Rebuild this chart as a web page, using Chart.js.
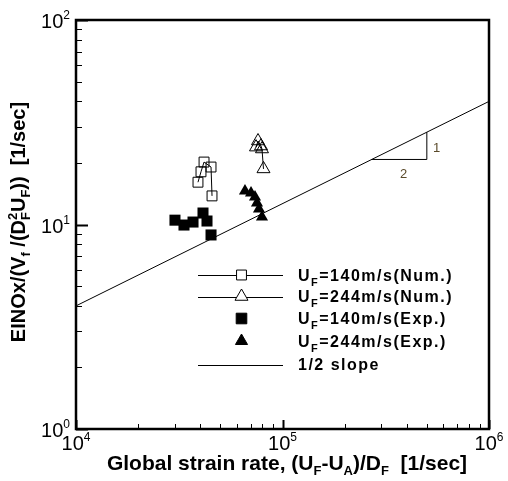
<!DOCTYPE html>
<html>
<head>
<meta charset="utf-8">
<script src="https://cdn.jsdelivr.net/npm/chart.js@4/dist/chart.umd.min.js"></script>
<style>
  html, body { margin: 0; padding: 0; background: #fff; }
  #wrap { width: 508px; height: 481px; }
</style>
</head>
<body>
<div id="wrap"><canvas id="chart" width="508" height="481"></canvas></div>
<script>
  // values: x = global strain rate [1/sec], y = EINOx index
  const num140 = [
    { x: 38970, y: 16.1 },
    { x: 40300, y: 18.1 },
    { x: 41690, y: 20.2 },
    { x: 45070, y: 19.1 },
    { x: 45570, y: 13.8 },
  ];
  const num244 = [
    { x: 74400, y: 23.9 },
    { x: 76100, y: 25.6 },
    { x: 78680, y: 24.2 },
    { x: 79560, y: 23.4 },
    { x: 80900, y: 18.7 },
  ];
  const exp140 = [
    { x: 30150, y: 10.5 },
    { x: 33340, y: 9.94 },
    { x: 36870, y: 10.28 },
    { x: 41210, y: 11.38 },
    { x: 43090, y: 10.4 },
    { x: 45070, y: 8.89 },
  ];
  const exp244 = [
    { x: 65810, y: 14.58 },
    { x: 70400, y: 14.26 },
    { x: 73580, y: 13.63 },
    { x: 75240, y: 12.74 },
    { x: 76940, y: 11.91 },
    { x: 79560, y: 10.88 },
  ];
  const halfSlope = [
    { x: 1e4, y: 4 },
    { x: 1e6, y: 40 },
  ];
  const slopeTriangle = [
    { x: 270000, y: 20.8 },
    { x: 500000, y: 20.8 },
    { x: 500000, y: 28.3 },
  ];

  const xMajors = [1e4, 1e5, 1e6];
  const xLabels = ["4", "5", "6"];
  const yMajors = [1, 10, 100];
  const yLabels = ["0", "1", "2"];

  const FONT = '"Liberation Sans", Arial, sans-serif';

  // draws text made of pieces: [text, kind], kind "" | "sub" | "sup" | "subsup" ("F|2")
  function drawRich(ctx, parts, x, y, opt) {
    const small = opt.small || Math.round(opt.size * 0.65);
    const fontFor = (k) => `${opt.weight || "normal"} ${k ? small : opt.size}px ${FONT}`;
    const widthOf = (t, k) => {
      ctx.font = fontFor(k);
      if (k === "subsup") {
        const [a, b] = t.split("|");
        return Math.max(ctx.measureText(a).width, ctx.measureText(b).width);
      }
      return ctx.measureText(t).width;
    };
    let total = 0;
    parts.forEach(([t, k]) => (total += widthOf(t, k)));
    let cx = opt.align === "center" ? x - total / 2 : opt.align === "right" ? x - total : x;
    ctx.textAlign = "left";
    ctx.textBaseline = "alphabetic";
    parts.forEach(([t, k]) => {
      const w = widthOf(t, k);
      ctx.font = fontFor(k);
      if (k === "subsup") {
        const [a, b] = t.split("|");
        ctx.fillText(a, cx, y + opt.drop);
        ctx.fillText(b, cx, y - opt.rise);
      } else {
        const dy = k === "sub" ? opt.drop : k === "sup" ? -opt.rise : 0;
        ctx.fillText(t, cx, y + dy);
      }
      cx += w;
    });
  }

  const decorations = {
    id: "decorations",
    afterDraw(chart) {
      const ctx = chart.ctx;
      const { left, right, top, bottom } = chart.chartArea;
      const xs = chart.scales.x;
      const ys = chart.scales.y;
      ctx.save();
      ctx.fillStyle = "#000";
      ctx.strokeStyle = "#000";

      // frame
      ctx.lineWidth = 2.5;
      ctx.strokeRect(left, top, right - left, bottom - top);

      // inward ticks
      const minors = [2, 3, 4, 5, 6, 7, 8, 9];
      ctx.beginPath();
      ctx.lineWidth = 2;
      yMajors.forEach((v) => {
        const py = Math.round(ys.getPixelForValue(v)) + 0.5;
        ctx.moveTo(left, py);
        ctx.lineTo(left + 12, py);
      });
      xMajors.forEach((v) => {
        const px = Math.round(xs.getPixelForValue(v)) + 0.5;
        ctx.moveTo(px, bottom);
        ctx.lineTo(px, bottom - 9);
      });
      ctx.stroke();
      ctx.beginPath();
      ctx.lineWidth = 1;
      yMajors.slice(0, -1).forEach((v) => {
        minors.forEach((m) => {
          const py = Math.round(ys.getPixelForValue(v * m)) + 0.5;
          ctx.moveTo(left, py);
          ctx.lineTo(left + 6, py);
        });
      });
      xMajors.slice(0, -1).forEach((v) => {
        minors.forEach((m) => {
          const px = Math.round(xs.getPixelForValue(v * m)) + 0.5;
          ctx.moveTo(px, bottom);
          ctx.lineTo(px, bottom - 5);
        });
      });
      ctx.stroke();

      // tick labels
      const tickOpt = { size: 20, small: 12, rise: 9, drop: 0 };
      xMajors.forEach((v, i) => {
        drawRich(ctx, [["10", ""], [xLabels[i], "sup"]], xs.getPixelForValue(v), bottom + 21,
          Object.assign({ align: "center" }, tickOpt));
      });
      yMajors.forEach((v, i) => {
        drawRich(ctx, [["10", ""], [yLabels[i], "sup"]], left - 6, ys.getPixelForValue(v) + 8,
          Object.assign({ align: "right" }, tickOpt));
      });

      // axis titles
      const titleOpt = { size: 20, small: 13, weight: "bold", rise: 8, drop: 5, align: "center" };
      drawRich(ctx, [
        ["Global strain rate, (U", ""], ["F", "sub"], ["-U", ""], ["A", "sub"],
        [")/D", ""], ["F", "sub"], ["  [1/sec]", ""],
      ], 287, 470, Object.assign({}, titleOpt, { size: 21 }));
      ctx.save();
      ctx.translate(25, 222);
      ctx.rotate(-Math.PI / 2);
      drawRich(ctx, [
        ["EINOx/(V", ""], ["f", "sub"], [" /(D", ""], ["F|2", "subsup"], ["U", ""],
        ["F", "sub"], ["))  [1/sec]", ""],
      ], 0, 0, titleOpt);
      ctx.restore();

      // legend
      const rows = [
        { y: 275, text: "=140m/s(Num.)", line: true, style: "rect", r: 7, fill: false },
        { y: 296.5, text: "=244m/s(Num.)", line: true, style: "triangle", r: 7.5, fill: false },
        { y: 318.5, text: "=140m/s(Exp.)", line: false, style: "rect", r: 7.5, fill: true },
        { y: 341, text: "=244m/s(Exp.)", line: false, style: "triangle", r: 7, fill: true },
        { y: 364.5, text: "1/2 slope", line: true, style: null },
      ];
      rows.forEach((row) => {
        if (row.line) {
          ctx.beginPath();
          ctx.lineWidth = 1;
          ctx.moveTo(198, Math.round(row.y) + 0.5);
          ctx.lineTo(283, Math.round(row.y) + 0.5);
          ctx.stroke();
        }
        if (row.style) {
          ctx.fillStyle = row.fill ? "#000" : "#fff";
          ctx.lineWidth = 1;
          Chart.helpers.drawPoint(ctx, { pointStyle: row.style, radius: row.r, borderWidth: 1, rotation: 0 },
            241.5, row.y);
          ctx.fillStyle = "#000";
        }
        ctx.letterSpacing = "1.5px";
        const legOpt = { size: 16, small: 11, weight: "bold", rise: 6, drop: 5 };
        const parts = row.style ? [["U", ""], ["F", "sub"], [row.text, ""]] : [[row.text, ""]];
        drawRich(ctx, parts, 298, row.y + 5.5, legOpt);
        ctx.letterSpacing = "0px";
      });

      // slope triangle numbers
      ctx.fillStyle = "#5a4a2a";
      ctx.font = `13px ${FONT}`;
      ctx.textAlign = "center";
      ctx.textBaseline = "middle";
      ctx.fillText("1", 436.5, 148);
      ctx.fillText("2", 403.5, 174.5);
      ctx.restore();
    },
  };

  new Chart(document.getElementById("chart").getContext("2d"), {
    type: "scatter",
    data: {
      datasets: [
        {
          label: "UF=140m/s(Num.)",
          data: num140,
          showLine: true,
          borderColor: "#000",
          borderWidth: 1,
          backgroundColor: "rgba(0,0,0,0)",
          pointStyle: "rect",
          pointRadius: 7,
          pointBorderWidth: 1,
        },
        {
          label: "UF=244m/s(Num.)",
          data: num244,
          showLine: true,
          borderColor: "#000",
          borderWidth: 1,
          backgroundColor: "rgba(0,0,0,0)",
          pointStyle: "triangle",
          pointRadius: 7.5,
          pointBorderWidth: 1,
        },
        {
          label: "UF=140m/s(Exp.)",
          data: exp140,
          borderColor: "#000",
          backgroundColor: "#000",
          pointStyle: "rect",
          pointRadius: 7.8,
          pointBorderWidth: 0,
        },
        {
          label: "UF=244m/s(Exp.)",
          data: exp244,
          borderColor: "#000",
          backgroundColor: "#000",
          pointStyle: "triangle",
          pointRadius: 7,
          pointBorderWidth: 0,
        },
        {
          label: "1/2 slope",
          data: halfSlope,
          showLine: true,
          borderColor: "#000",
          borderWidth: 1,
          pointRadius: 0,
        },
        {
          label: "slope triangle",
          data: slopeTriangle,
          showLine: true,
          borderColor: "#000",
          borderWidth: 1,
          pointRadius: 0,
        },
      ],
    },
    options: {
      responsive: false,
      animation: false,
      events: [],
      layout: { padding: { left: 76, top: 20, right: 19, bottom: 52 } },
      plugins: {
        legend: { display: false },
        tooltip: { enabled: false },
      },
      scales: {
        x: { type: "logarithmic", min: 1e4, max: 1e6, display: false },
        y: { type: "logarithmic", min: 1, max: 100, display: false },
      },
    },
    plugins: [decorations],
  });
</script>
</body>
</html>
